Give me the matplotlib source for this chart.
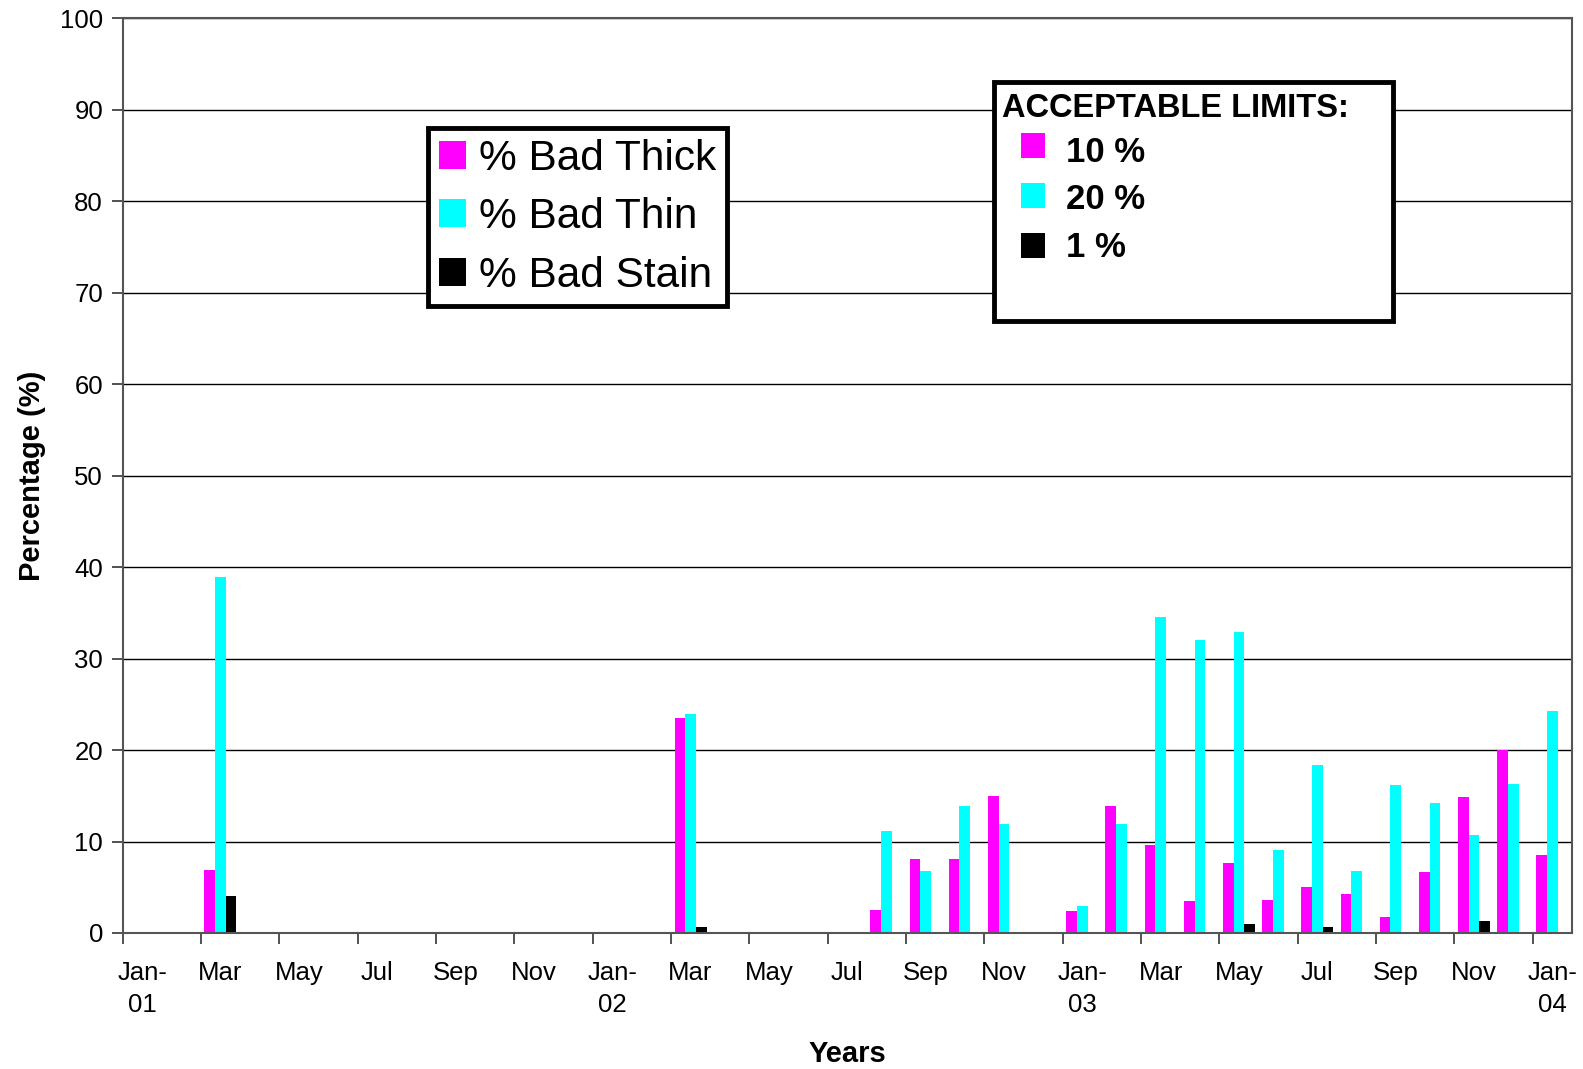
import matplotlib.pyplot as plt
import numpy as np
from matplotlib.patches import Rectangle

plt.rcParams['font.family'] = ['Liberation Sans', 'DejaVu Sans']

# Data (months Jan-01 .. Jan-04)
months = ['Jan-01', 'Feb-01', 'Mar-01', 'Apr-01', 'May-01', 'Jun-01', 'Jul-01', 'Aug-01',
          'Sep-01', 'Oct-01', 'Nov-01', 'Dec-01', 'Jan-02', 'Feb-02', 'Mar-02', 'Apr-02',
          'May-02', 'Jun-02', 'Jul-02', 'Aug-02', 'Sep-02', 'Oct-02', 'Nov-02', 'Dec-02',
          'Jan-03', 'Feb-03', 'Mar-03', 'Apr-03', 'May-03', 'Jun-03', 'Jul-03', 'Aug-03',
          'Sep-03', 'Oct-03', 'Nov-03', 'Dec-03', 'Jan-04']
bad_thick = [0, 0, 6.9, 0, 0, 0, 0, 0, 0, 0, 0, 0, 0, 0, 23.5, 0,
             0, 0, 0, 2.5, 8.1, 8.1, 15.0, 0, 2.4, 13.9, 9.6, 3.5, 7.7, 3.6, 5.0, 4.3,
             1.8, 6.7, 14.9, 20.0, 8.5]
bad_thin = [0, 0, 38.9, 0, 0, 0, 0, 0, 0, 0, 0, 0, 0, 0, 23.9, 0,
            0, 0, 0, 11.2, 6.8, 13.9, 11.9, 0, 3.0, 11.9, 34.5, 32.0, 32.9, 9.1, 18.4, 6.8,
            16.2, 14.2, 10.7, 16.3, 24.3]
bad_stain = [0, 0, 4.0, 0, 0, 0, 0, 0, 0, 0, 0, 0, 0, 0, 0.7, 0,
             0, 0, 0, 0, 0, 0, 0, 0, 0, 0, 0, 0, 1.0, 0, 0.7, 0,
             0, 0, 1.3, 0, 0]
tick_labels = ['Jan-\n01', 'Mar', 'May', 'Jul', 'Sep', 'Nov',
               'Jan-\n02', 'Mar', 'May', 'Jul', 'Sep', 'Nov',
               'Jan-\n03', 'Mar', 'May', 'Jul', 'Sep', 'Nov', 'Jan-\n04']
limits = ['10 %', '20 %', '1 %']
warna = ['#FF00FF', '#00FFFF', '#000000']

W, H = 1583, 1069
fig = plt.figure(figsize=(W / 100, H / 100), dpi=100)
ax = fig.add_axes([122.5 / W, 1 - 933 / H, (1572 - 122.5) / W, (933 - 18.3) / H])

x = np.arange(len(months))
bw = 0.272
b1 = ax.bar(x - bw, bad_thick, bw, color=warna[0], label='% Bad Thick')
b2 = ax.bar(x, bad_thin, bw, color=warna[1], label='% Bad Thin')
b3 = ax.bar(x + bw, bad_stain, bw, color=warna[2], label='% Bad Stain')

ax.set_xlim(-0.5, len(months) - 0.5)
ax.set_ylim(0, 100)
ax.set_yticks(range(0, 101, 10))
ax.yaxis.grid(True, color='black', lw=1)
ax.set_axisbelow(True)

ax.set_xticks(x[::2])
ax.set_xticklabels(tick_labels)
for t in ax.get_xticklabels():
    t.set_linespacing(1.42)
ax.set_xticks(np.arange(-0.5, len(months) - 1, 2), minor=True)
ax.tick_params(axis='x', which='major', length=0, pad=20, labelsize=18.5)
ax.tick_params(axis='x', which='minor', length=8, width=1.2, color='#333')
ax.tick_params(axis='y', length=8, width=1.2, pad=6, labelsize=18.5, color='#333')

for s in ax.spines.values():
    s.set_color('#555')
    s.set_linewidth(1.5)

ax.set_ylabel('Percentage (%)', fontsize=21, fontweight='bold', labelpad=10)
ax.set_xlabel('Years', fontsize=21, fontweight='bold', labelpad=17)

# legend seri
leg = ax.legend(handles=[b1, b2, b3], loc='upper left',
                bbox_to_anchor=(428 / W, 1 - 128 / H), bbox_transform=fig.transFigure,
                fontsize=30.5, fancybox=False, edgecolor='black', framealpha=1,
                handlelength=0.65, handleheight=0.65, handletextpad=0.3,
                labelspacing=0.44, borderpad=0.25, borderaxespad=0)
leg.get_frame().set_linewidth(3.5)

# kotak batas yang dapat diterima
fig.add_artist(Rectangle((994 / W, 1 - 321 / H), (1393 - 994) / W, (321 - 82) / H,
                         transform=fig.transFigure, facecolor='white',
                         edgecolor='black', lw=3.5, zorder=5))
fig.text(1002 / W, 1 - 117 / H, 'ACCEPTABLE LIMITS:', fontsize=23.5, fontweight='bold',
         va='baseline', zorder=6)
for i, (lab, c) in enumerate(zip(limits, warna)):
    yc = 145.5 + 50.2 * i
    fig.add_artist(Rectangle((1021 / W, 1 - (yc + 12.5) / H), 24 / W, 25 / H,
                             transform=fig.transFigure, facecolor=c, edgecolor='none',
                             zorder=6))
    fig.text(1066 / W, 1 - (162 + 47.5 * i) / H, lab, fontsize=25, fontweight='bold',
             va='baseline', zorder=6)

fig.savefig('out.png', dpi=100)
